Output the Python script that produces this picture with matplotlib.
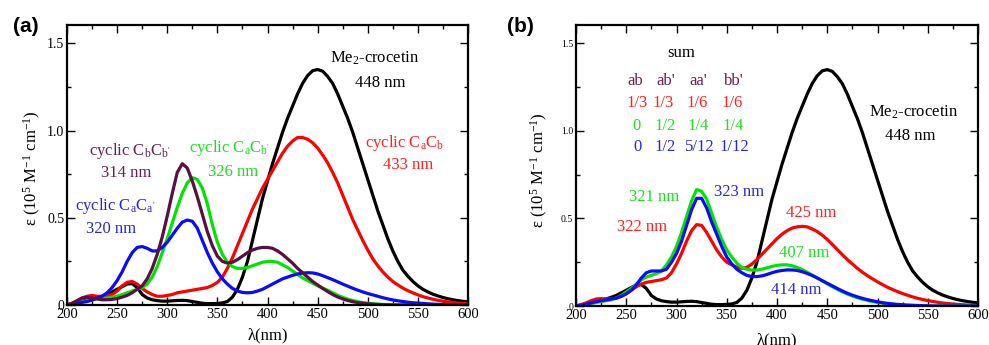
import numpy as np
import matplotlib
matplotlib.use('Agg')
import matplotlib.pyplot as plt
from matplotlib.ticker import MultipleLocator, FixedLocator, FixedFormatter

plt.rcParams['font.family'] = ['Liberation Serif', 'DejaVu Serif']
plt.rcParams['mathtext.fontset'] = 'custom'
plt.rcParams['mathtext.rm'] = 'Liberation Serif'
plt.rcParams['mathtext.it'] = 'Liberation Serif:italic'
plt.rcParams['mathtext.bf'] = 'Liberation Serif:bold'

# ---------------- data ----------------
wavelength = np.arange(200, 601, 5)  # nm

me2_crocetin = [
    0.0, 0.005, 0.01, 0.02, 0.03, 0.035, 0.04, 0.05, 0.06, 0.075,
    0.09, 0.105, 0.12, 0.123, 0.10, 0.06, 0.04, 0.03, 0.025, 0.022,
    0.022, 0.024, 0.026, 0.027, 0.025, 0.02, 0.015, 0.01, 0.008, 0.008,
    0.009, 0.012, 0.02, 0.045, 0.09, 0.16, 0.25, 0.37, 0.49, 0.61,
    0.71, 0.81, 0.90, 0.99, 1.07, 1.14, 1.21, 1.27, 1.315, 1.343,
    1.35, 1.34, 1.31, 1.27, 1.21, 1.14, 1.07, 0.99, 0.90, 0.81,
    0.72, 0.63, 0.54, 0.46, 0.38, 0.31, 0.25, 0.20, 0.165, 0.135,
    0.11, 0.09, 0.075, 0.062, 0.052, 0.043, 0.036, 0.03, 0.025, 0.021,
    0.018]

cyclic_CaCb = [
    0.0, 0.01, 0.02, 0.04, 0.05, 0.055, 0.05, 0.05, 0.055, 0.06,
    0.08, 0.11, 0.13, 0.135, 0.12, 0.095, 0.075, 0.06, 0.05, 0.05,
    0.055, 0.06, 0.07, 0.075, 0.08, 0.085, 0.09, 0.095, 0.10, 0.112,
    0.13, 0.16, 0.21, 0.27, 0.34, 0.41, 0.48, 0.55, 0.61, 0.67,
    0.72, 0.77, 0.82, 0.87, 0.91, 0.94, 0.96, 0.96, 0.95, 0.93,
    0.90, 0.86, 0.815, 0.76, 0.70, 0.63, 0.56, 0.49, 0.43, 0.37,
    0.315, 0.265, 0.225, 0.19, 0.16, 0.135, 0.115, 0.097, 0.082, 0.07,
    0.058, 0.048, 0.04, 0.033, 0.027, 0.022, 0.018, 0.014, 0.011, 0.009,
    0.007]

cyclic_CbCb2 = [
    0.0, 0.01, 0.025, 0.04, 0.045, 0.04, 0.035, 0.03, 0.03, 0.032,
    0.037, 0.045, 0.055, 0.07, 0.09, 0.11, 0.15, 0.21, 0.29, 0.39,
    0.51, 0.64, 0.76, 0.81, 0.785, 0.71, 0.62, 0.52, 0.42, 0.34,
    0.28, 0.25, 0.24, 0.245, 0.26, 0.28, 0.30, 0.315, 0.325, 0.33,
    0.33, 0.325, 0.31, 0.29, 0.265, 0.24, 0.21, 0.185, 0.16, 0.135,
    0.115, 0.095, 0.077, 0.06, 0.046, 0.035, 0.026, 0.019, 0.014, 0.01,
    0.007, 0.005, 0.003, 0.002, 0.001, 0.0, 0.0, 0.0, 0.0, 0.0,
    0.0, 0.0, 0.0, 0.0, 0.0, 0.0, 0.0, 0.0, 0.0, 0.0,
    0.0]

cyclic_CaCb2 = [
    0.0, 0.005, 0.01, 0.018, 0.025, 0.03, 0.035, 0.038, 0.04, 0.045,
    0.05, 0.06, 0.07, 0.08, 0.09, 0.10, 0.12, 0.16, 0.22, 0.30,
    0.38, 0.47, 0.56, 0.64, 0.70, 0.73, 0.72, 0.67, 0.58, 0.46,
    0.36, 0.29, 0.245, 0.22, 0.21, 0.21, 0.215, 0.225, 0.235, 0.245,
    0.25, 0.25, 0.245, 0.23, 0.215, 0.195, 0.175, 0.155, 0.14, 0.125,
    0.11, 0.097, 0.085, 0.07, 0.056, 0.044, 0.034, 0.026, 0.019, 0.014,
    0.01, 0.007, 0.005, 0.003, 0.002, 0.001, 0.0, 0.0, 0.0, 0.0,
    0.0, 0.0, 0.0, 0.0, 0.0, 0.0, 0.0, 0.0, 0.0, 0.0,
    0.0]

cyclic_CaCa2 = [
    0.0, 0.005, 0.01, 0.015, 0.02, 0.028, 0.04, 0.05, 0.07, 0.10,
    0.14, 0.19, 0.25, 0.30, 0.33, 0.335, 0.325, 0.31, 0.31, 0.33,
    0.36, 0.40, 0.44, 0.475, 0.487, 0.48, 0.44, 0.37, 0.30, 0.24,
    0.19, 0.15, 0.12, 0.095, 0.08, 0.072, 0.07, 0.072, 0.08, 0.09,
    0.105, 0.12, 0.135, 0.15, 0.16, 0.17, 0.178, 0.183, 0.185, 0.184,
    0.178, 0.168, 0.157, 0.145, 0.133, 0.12, 0.108, 0.096, 0.085, 0.075,
    0.066, 0.058, 0.05, 0.042, 0.035, 0.029, 0.024, 0.02, 0.016, 0.013,
    0.011, 0.009, 0.007, 0.005, 0.004, 0.003, 0.002, 0.002, 0.001, 0.001,
    0.0]

sum_red = [
    0.0, 0.008, 0.018, 0.03, 0.04, 0.042, 0.04, 0.04, 0.045, 0.055,
    0.07, 0.09, 0.11, 0.125, 0.135, 0.14, 0.145, 0.15, 0.16, 0.19,
    0.24, 0.30, 0.37, 0.43, 0.465, 0.46, 0.42, 0.37, 0.32, 0.28,
    0.25, 0.235, 0.222, 0.215, 0.22, 0.24, 0.265, 0.295, 0.325, 0.355,
    0.385, 0.41, 0.43, 0.445, 0.452, 0.455, 0.452, 0.44, 0.425, 0.405,
    0.38, 0.352, 0.322, 0.293, 0.265, 0.24, 0.215, 0.193, 0.173, 0.155,
    0.138, 0.122, 0.107, 0.094, 0.082, 0.071, 0.061, 0.052, 0.044, 0.037,
    0.031, 0.026, 0.021, 0.017, 0.014, 0.011, 0.009, 0.007, 0.005, 0.004,
    0.003]

sum_green = [
    0.0, 0.004, 0.008, 0.014, 0.02, 0.025, 0.03, 0.035, 0.045, 0.06,
    0.08, 0.10, 0.125, 0.15, 0.165, 0.175, 0.185, 0.20, 0.235, 0.28,
    0.34, 0.42, 0.51, 0.60, 0.665, 0.655, 0.61, 0.53, 0.45, 0.38,
    0.32, 0.28, 0.245, 0.22, 0.21, 0.205, 0.205, 0.21, 0.218, 0.226,
    0.232, 0.235, 0.235, 0.23, 0.22, 0.208, 0.193, 0.177, 0.16, 0.143,
    0.127, 0.11, 0.095, 0.081, 0.068, 0.057, 0.047, 0.039, 0.032, 0.025,
    0.02, 0.016, 0.012, 0.009, 0.007, 0.005, 0.004, 0.003, 0.002, 0.001,
    0.0, 0.0, 0.0, 0.0, 0.0, 0.0, 0.0, 0.0, 0.0, 0.0,
    0.0]

sum_blue = [
    0.0, 0.005, 0.01, 0.018, 0.025, 0.03, 0.035, 0.04, 0.045, 0.055,
    0.07, 0.09, 0.12, 0.16, 0.19, 0.20, 0.20, 0.20, 0.21, 0.25,
    0.30, 0.37, 0.46, 0.55, 0.615, 0.615, 0.56, 0.48, 0.41, 0.34,
    0.28, 0.24, 0.21, 0.19, 0.175, 0.168, 0.168, 0.172, 0.18, 0.19,
    0.198, 0.203, 0.206, 0.206, 0.203, 0.196, 0.186, 0.174, 0.16, 0.145,
    0.13, 0.115, 0.10, 0.086, 0.073, 0.062, 0.052, 0.044, 0.036, 0.03,
    0.024, 0.019, 0.015, 0.012, 0.009, 0.007, 0.005, 0.004, 0.003, 0.002,
    0.001, 0.0, 0.0, 0.0, 0.0, 0.0, 0.0, 0.0, 0.0, 0.0,
    0.0]

x_ticks = [200, 250, 300, 350, 400, 450, 500, 550, 600]
y_ticks = [0, 0.5, 1.0, 1.5]
y_ticklabels = ['0', '0.5', '1.0', '1.5']

sum_header = ["ab", "ab'", "aa'", "bb'"]
sum_rows = [["1/3", "1/3", "1/6", "1/6"],
            ["0", "1/2", "1/4", "1/4"],
            ["0", "1/2", "5/12", "1/12"]]

# ---------------- style ----------------
C_BLACK = '#000000'
C_RED = '#ff0000'
C_GREEN = '#00e400'
C_BLUE = '#0a0aff'
C_PURPLE = '#5c0e44'
T_RED = '#ff2020'
T_GREEN = '#1ede1e'
T_BLUE = '#2828d2'
T_PURPLE = '#6a2050'
LW = 2.3

fig = plt.figure(figsize=(9.89, 3.45), dpi=100)
ax1 = fig.add_axes([67/989, 1-305/345, 401/989, 280/345])
ax2 = fig.add_axes([576/989, 1-306/345, 402/989, 281/345])


def style(ax, ysize):
    ax.set_xlim(200, 600)
    ax.set_ylim(0, 1.605)
    ax.xaxis.set_major_locator(FixedLocator(x_ticks))
    ax.xaxis.set_minor_locator(MultipleLocator(25))
    ax.yaxis.set_major_locator(FixedLocator(y_ticks))
    ax.yaxis.set_major_formatter(FixedFormatter(y_ticklabels))
    ax.yaxis.set_minor_locator(MultipleLocator(0.25))
    ax.tick_params(which='both', direction='in', top=True, right=True)
    ax.tick_params(which='major', length=6, width=1)
    ax.tick_params(which='minor', length=3, width=1)
    ax.tick_params(axis='x', labelsize=10.5, pad=2)
    ax.tick_params(axis='y', labelsize=ysize, pad=2)
    for s in ax.spines.values():
        s.set_linewidth(1.6)


# ---------------- panel (a) ----------------
ax1.plot(wavelength, me2_crocetin, color=C_BLACK, lw=LW)
ax1.plot(wavelength, cyclic_CaCb, color=C_RED, lw=LW)
ax1.plot(wavelength, cyclic_CaCb2, color=C_GREEN, lw=LW)
ax1.plot(wavelength, cyclic_CaCa2, color=C_BLUE, lw=LW)
ax1.plot(wavelength, cyclic_CbCb2, color=C_PURPLE, lw=LW)
style(ax1, 10)

fs = 12
ax1.text(507, 1.414, r"Me$_2$-crocetin", fontsize=fs, ha='center', va='center')
ax1.text(512, 1.27, "448 nm", fontsize=fs, ha='center', va='center')
ax1.text(537, 0.927, r"cyclic C$_\mathrm{a}$C$_\mathrm{b}$", fontsize=fs, ha='center', va='center', color=T_RED)
ax1.text(540, 0.80, "433 nm", fontsize=fs, ha='center', va='center', color=T_RED)
ax1.text(263, 0.884, r"cyclic C$_\mathrm{b}$C$_\mathrm{b'}$", fontsize=fs, ha='center', va='center', color=T_PURPLE)
ax1.text(259.5, 0.755, "314 nm", fontsize=fs, ha='center', va='center', color=T_PURPLE)
ax1.text(362.6, 0.898, r"cyclic C$_\mathrm{a}$C$_\mathrm{b'}$", fontsize=fs, ha='center', va='center', color=T_GREEN)
ax1.text(366, 0.764, "326 nm", fontsize=fs, ha='center', va='center', color=T_GREEN)
ax1.text(248, 0.569, r"cyclic C$_\mathrm{a}$C$_\mathrm{a'}$", fontsize=fs, ha='center', va='center', color=T_BLUE)
ax1.text(244, 0.434, "320 nm", fontsize=fs, ha='center', va='center', color=T_BLUE)

ax1.text(0.5, -0.107, "λ(nm)", transform=ax1.transAxes, fontsize=12, ha='center', va='center')
ax1.text(-0.085, 0.49, r"ε (10$^5$ M$^{-1}$ cm$^{-1}$)", transform=ax1.transAxes,
         fontsize=12, ha='center', va='center', rotation=90)

# ---------------- panel (b) ----------------
ax2.plot(wavelength, me2_crocetin, color=C_BLACK, lw=LW)
ax2.plot(wavelength, sum_red, color=C_RED, lw=LW)
ax2.plot(wavelength, sum_green, color=C_GREEN, lw=LW)
ax2.plot(wavelength, sum_blue, color=C_BLUE, lw=LW)
style(ax2, 7)

ax2.text(304.2, 1.443, "sum", fontsize=fs, ha='center', va='center')
col_x = [259.4, 289.6, 321.7, 357.5]
row_x = [[260.5, 286.6, 321.0, 355.3],
         [260.5, 288.2, 322.0, 356.3],
         [261.2, 288.9, 322.7, 357.3]]
row_y = [1.161, 1.028, 0.906]
row_c = [T_RED, T_GREEN, T_BLUE]
for h, x in zip(sum_header, col_x):
    ax2.text(x, 1.287, h, fontsize=fs, ha='center', va='center', color=T_PURPLE)
for vals, xs, y, c in zip(sum_rows, row_x, row_y, row_c):
    for v, x in zip(vals, xs):
        ax2.text(x, y, v, fontsize=fs, ha='center', va='center', color=c)

ax2.text(535.6, 1.104, r"Me$_2$-crocetin", fontsize=fs, ha='center', va='center')
ax2.text(533, 0.971, "448 nm", fontsize=fs, ha='center', va='center')
ax2.text(277.9, 0.624, "321 nm", fontsize=fs, ha='center', va='center', color=T_GREEN)
ax2.text(362.5, 0.649, "323 nm", fontsize=fs, ha='center', va='center', color=T_BLUE)
ax2.text(266, 0.453, "322 nm", fontsize=fs, ha='center', va='center', color=T_RED)
ax2.text(433.8, 0.533, "425 nm", fontsize=fs, ha='center', va='center', color=T_RED)
ax2.text(426.9, 0.301, "407 nm", fontsize=fs, ha='center', va='center', color=T_GREEN)
ax2.text(419.6, 0.091, "414 nm", fontsize=fs, ha='center', va='center', color=T_BLUE)

ax2.text(0.5, -0.121, "λ(nm)", transform=ax2.transAxes, fontsize=12, ha='center', va='center')
ax2.text(-0.09, 0.484, r"ε (10$^5$ M$^{-1}$ cm$^{-1}$)", transform=ax2.transAxes,
         fontsize=12, ha='center', va='center', rotation=90)

# panel labels
fig.text(13/989, 1-27/345, "(a)", fontsize=15, fontweight='bold', family='Liberation Sans',
         ha='left', va='center')
fig.text(507/989, 1-27/345, "(b)", fontsize=15, fontweight='bold', family='Liberation Sans',
         ha='left', va='center')

fig.savefig('out.png', dpi=100)
